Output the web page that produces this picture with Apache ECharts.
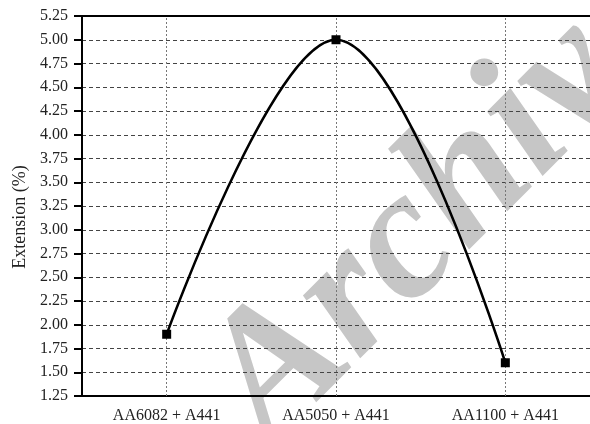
<!DOCTYPE html>
<html>
<head>
<meta charset="utf-8">
<script src="https://cdn.jsdelivr.net/npm/echarts@6/dist/echarts.min.js"></script>
<style>html,body{margin:0;padding:0;background:#fff}#c{width:590px;height:424px}</style>
</head>
<body>
<div id="c"></div>
<script>
const categories = ['AA6082 + A441', 'AA5050 + A441', 'AA1100 + A441'];
const extension = [1.9, 5.0, 1.6];
const yAxisName = 'Extension (%)';
const watermark = 'Archive';

const chart = echarts.init(document.getElementById('c'), null, {renderer: 'canvas'});
const serif = "'Liberation Serif', 'DejaVu Serif', serif";
chart.setOption({
  animation: false,
  backgroundColor: '#fff',
  grid: {left: 82, top: 16, width: 513, height: 380},
  graphic: [{
    type: 'text', z: -10, zlevel: 0,
    x: 171, y: 349, rotation: 45 * Math.PI / 180,
    style: {text: watermark, font: "italic bold 185px " + serif, fill: '#c6c6c6', verticalAlign: 'top', align: 'left'}
  }],
  xAxis: [{
    type: 'category', data: categories, position: 'bottom',
    axisLine: {lineStyle: {color: '#000', width: 2}},
    axisTick: {alignWithLabel: true, length: 7, lineStyle: {color: '#000', width: 2}},
    axisLabel: {color: '#222', fontFamily: serif, fontSize: 16, margin: 12},
    splitLine: {show: false}
  }, {
    type: 'category', data: categories, position: 'top',
    axisLine: {lineStyle: {color: '#000', width: 2}},
    axisTick: {show: false}, axisLabel: {show: false}, splitLine: {show: false}
  }],
  yAxis: {
    type: 'value', min: 1.25, max: 5.25, interval: 0.25,
    name: yAxisName, nameLocation: 'middle', nameGap: 52,
    nameTextStyle: {color: '#222', fontFamily: serif, fontSize: 18, padding: [0, 22, 0, 0]},
    axisLine: {show: true, lineStyle: {color: '#000', width: 2}},
    axisTick: {show: true, length: 8, lineStyle: {color: '#000', width: 2}},
    axisLabel: {color: '#222', fontFamily: serif, fontSize: 16, margin: 14, formatter: v => v.toFixed(2)},
    splitLine: {show: true, lineStyle: {color: '#444', type: [4, 3], width: 1}}
  },
  series: [{
    type: 'line', data: extension, smooth: 0.38,
    symbol: 'rect', symbolSize: 9,
    itemStyle: {color: '#000'},
    lineStyle: {color: '#000', width: 2.5},
    markLine: {
      silent: true, symbol: 'none', label: {show: false}, z: 1,
      lineStyle: {color: '#777', type: [2, 2], width: 1},
      data: categories.map(c => ({xAxis: c}))
    }
  }]
});
</script>
</body>
</html>
